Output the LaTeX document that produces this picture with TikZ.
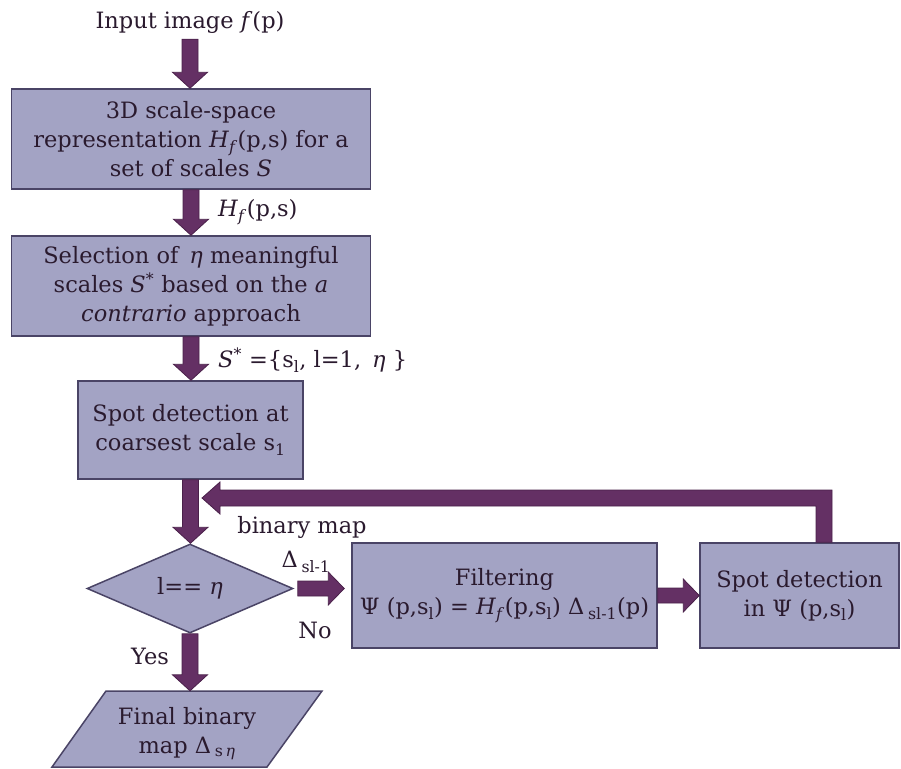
\documentclass[tikz,border=0pt]{standalone}
\usepackage{fontspec}
\setmainfont{DejaVu Serif}
\usetikzlibrary{shapes.geometric,calc}
\definecolor{boxfill}{HTML}{A3A3C4}
\definecolor{boxline}{HTML}{4A4466}
\definecolor{arrfill}{HTML}{643064}
\definecolor{arrline}{HTML}{4A214A}
\definecolor{txt}{HTML}{2A1A2E}
\newcommand{\fs}{\fontsize{22.5}{29}\selectfont}
\newcommand{\fatdown}[2]{%
 \draw[fatarr] let \p1=(#1), \p2=(#2) in
 ({\x1-8pt},\y1) -- ({\x1-8pt},{\y2+16pt}) -- ({\x1-17.5pt},{\y2+16pt}) -- (\x1,\y2)
 -- ({\x1+17.5pt},{\y2+16pt}) -- ({\x1+8pt},{\y2+16pt}) -- ({\x1+8pt},\y1) -- cycle;}
\newcommand{\fatright}[2]{%
 \draw[fatarr] let \p1=(#1), \p2=(#2) in
 (\x1,{\y1+7.5pt}) -- ({\x2-16pt},{\y1+7.5pt}) -- ({\x2-16pt},{\y1+16.5pt}) -- (\x2,\y1)
 -- ({\x2-16pt},{\y1-16.5pt}) -- ({\x2-16pt},{\y1-7.5pt}) -- (\x1,{\y1-7.5pt}) -- cycle;}
\tikzset{
 procbox/.style={draw=boxline, line width=1.5pt, fill=boxfill, inner sep=0pt, align=center, text=txt, font=\fs},
 shapefill/.style={draw=boxline, line width=1.5pt, fill=boxfill},
 lbl/.style={inner sep=0pt, text=txt, font=\fs, align=center},
 fatarr/.style={fill=arrfill, draw=arrline, line width=0.8pt, line join=miter},
}
\begin{document}
\begin{tikzpicture}[x=1pt,y=-1pt]
\useasboundingbox (0,0) rectangle (901,768);
% nodes
\node[lbl, minimum height=34pt] (in) at (190,22) {Input image \textit{f}(p)};
\node[procbox, minimum width=359pt, minimum height=100pt] (b1) at (191,139)
 {3D scale-space\\representation \textit{H}\textsubscript{\textit{f}}(p,s) for a\\set of scales \textit{S}};
\node[procbox, minimum width=359pt, minimum height=100pt] (b2) at (191,286)
 {Selection of \,\textit{η} meaningful\\scales \textit{S}\textsuperscript{*} based on the \textit{a}\\\textit{contrario} approach};
\node[procbox, minimum width=225pt, minimum height=98pt] (b3) at (190.5,430)
 {Spot detection at\\coarsest scale s\textsubscript{1}};
\node[procbox, diamond, minimum width=206pt, minimum height=89pt] (dia) at (190,588.5)
 {l== \textit{η}};
\node[procbox, minimum width=305pt, minimum height=105pt] (filt) at (504.5,595.5)
 {Filtering\\Ψ (p,s\textsubscript{l}) = \textit{H}\textsubscript{\textit{f}}(p,s\textsubscript{l}) Δ\,\textsubscript{sl-1}(p)};
\node[procbox, minimum width=199pt, minimum height=105pt] (s2) at (799.5,595.5)
 {Spot detection\\in Ψ (p,s\textsubscript{l})};
\draw[shapefill] (106,691) -- (322,691) -- (267,767) -- (52,767) -- cycle;
\node[lbl, minimum height=86pt] (fin) at (187,734) {Final binary\\map Δ\,\textsubscript{s\,\textit{η}}};
\coordinate (loopend) at (202,498);
% labels
\node[lbl, anchor=west] (lh) at (218,212) {\textit{H}\textsubscript{\textit{f}}(p,s)};
\node[lbl, anchor=west] (ls) at (218,360) {\textit{S}\textsuperscript{*} =\{s\textsubscript{l}, l=1, \,\textit{η} \}};
\node[lbl] (lbin) at (302,527) {binary map};
\node[lbl] (ldel) at (306,562) {Δ\,\textsubscript{sl-1}};
\node[lbl] (lno) at (315,630) {No};
\node[lbl] (lyes) at (150,656) {Yes};
% arrows
\fatdown{in.south}{b1.north}
\fatdown{b1.south}{b2.north}
\fatdown{b2.south}{b3.north}
\fatdown{b3.south}{dia.north}
\fatdown{dia.south}{fin.north}
\fatright{[xshift=4pt]dia.east}{[xshift=-7pt]filt.west}
\fatright{filt.east}{s2.west}
\draw[fatarr] let \p1=([xshift=24.5pt]s2.north), \p2=(loopend) in
 ({\x1-8pt},\y1) -- ({\x1-8pt},{\y2-8pt}) -- ({\x2+18pt},{\y2-8pt}) -- ({\x2+18pt},{\y2-16pt})
 -- (\x2,\y2) -- ({\x2+18pt},{\y2+16pt}) -- ({\x2+18pt},{\y2+8pt}) -- ({\x1+8pt},{\y2+8pt})
 -- ({\x1+8pt},\y1) -- cycle;
\end{tikzpicture}
\end{document}
